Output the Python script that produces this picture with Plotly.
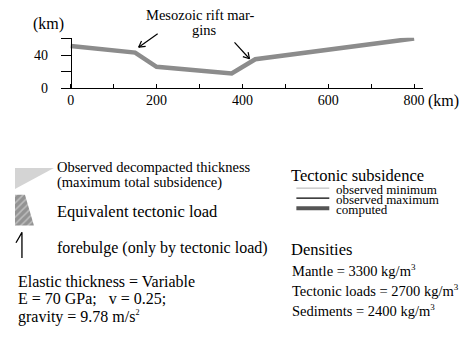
import numpy as np
import plotly.graph_objects as go

W, H = 471, 337
FONT = "Liberation Serif"

# ---- data ----
distance_km = [0, 150, 200, 375, 430, 800]
depth_km = [51, 43, 26, 18, 35, 60]
x_tickvals = [0, 100, 200, 300, 400, 500, 600, 700, 800]
x_ticktext = ["0", " ", "200", " ", "400", " ", "600", " ", "800"]
y_tickvals = [0, 20, 40, 60]
y_ticktext = ["0", " ", "40", " "]

# ---- layout geometry (pixels) ----
PX_L, PX_R, PX_T, PX_B = 61, 424, 33, 86
X_RANGE = [-23, 821]
Y_RANGE = [0, 61]

fig = go.Figure()

fig.add_trace(go.Scatter(x=distance_km, y=depth_km, mode="lines",
                         line=dict(color="#8c8c8c", width=4.5),
                         xaxis="x", yaxis="y", hoverinfo="skip", showlegend=False))

# legend symbols on a hidden pixel-coordinate overlay axis
fig.add_trace(go.Scatter(x=[15, 54, 15, 15], y=[169, 169, 191, 169], mode="lines",
                         fill="toself", fillcolor="#d4d4d4", line=dict(width=0),
                         xaxis="x2", yaxis="y2", hoverinfo="skip", showlegend=False))
fig.add_trace(go.Scatter(x=[15, 25, 34, 15, 15], y=[197, 197, 229, 229, 197], mode="lines",
                         fill="toself", fillcolor="#939393",
                         fillpattern=dict(shape="/", bgcolor="#939393", fgcolor="#e8e8e8",
                                          size=5, solidity=0.3),
                         line=dict(width=0),
                         xaxis="x2", yaxis="y2", hoverinfo="skip", showlegend=False))

shapes = []
def seg(x0, y0, x1, y1, color="black", width=1.2):
    shapes.append(dict(type="line", xref="x2", yref="y2", x0=x0, y0=y0, x1=x1, y1=y1,
                       line=dict(color=color, width=width)))

def arrow(x0, y0, x1, y1, head=7, ang=30):
    seg(x0, y0, x1, y1)
    d = np.array([x0 - x1, y0 - y1], float)
    d /= np.linalg.norm(d)
    for s in (-1, 1):
        a = np.radians(s * ang)
        r = np.array([d[0] * np.cos(a) - d[1] * np.sin(a), d[0] * np.sin(a) + d[1] * np.cos(a)])
        seg(x1, y1, x1 + head * r[0], y1 + head * r[1])

arrow(158, 29, 139, 43)
arrow(235, 38, 250, 55)

# forebulge symbol
shapes.append(dict(type="path", xref="x2", yref="y2", path="M 22,263 L 22,236 Q 20,240 16,247",
                   line=dict(color="black", width=1.3)))

# tectonic subsidence legend lines
seg(297, 190, 330, 190, "#b0b0b0", 1)
seg(297, 200.5, 330, 200.5, "black", 1.3)
seg(297, 211, 330, 211, "#555555", 4)

annotations = []
def txt(s, x, y, size=13, anchor="left"):
    annotations.append(dict(text=s, x=x, y=y, xref="x2", yref="y2", xanchor=anchor,
                            yanchor="middle", showarrow=False,
                            font=dict(family=FONT, size=size, color="black")))

def sup(s, px):
    return "<sup><span style='font-size:%dpx'>%s</span></sup>" % (px, s)

txt("(km)", 49, 19, 16, "center")
txt("(km)", 427, 99, 16)
txt("Mesozoic rift mar-", 201, 9, 14.5, "center")
txt("gins", 205, 25, 14.5, "center")

txt("Observed decompacted thickness", 55, 168, 14.5)
txt("(maximum total subsidence)", 55, 184, 14.5)
txt("Equivalent tectonic load", 55, 214, 16.5)
txt("forebulge (only by tectonic load)", 55, 253, 16)
txt("Elastic thickness = Variable", 16, 287, 16)
txt("E = 70 GPa;\u00a0\u00a0 v = 0.25;", 16, 305, 16)
txt("gravity = 9.78 m/s" + sup("2", 8), 16, 324, 16)

txt("Tectonic subsidence", 290, 177, 16.5)
txt("observed minimum", 335, 191, 13)
txt("observed maximum", 335, 201.5, 13)
txt("computed", 335, 212, 13)
txt("Densities", 290, 254, 16.5)
txt("Mantle = 3300 kg/m" + sup("3", 9), 291, 276, 14.5)
txt("Tectonic loads = 2700 kg/m" + sup("3", 9), 291, 297, 14.5)
txt("Sediments = 2400 kg/m" + sup("3", 9), 291, 318, 14.5)

tickfont = dict(family=FONT, size=14, color="black")
fig.update_layout(
    width=W, height=H,
    margin=dict(l=0, r=0, t=0, b=0),
    paper_bgcolor="white", plot_bgcolor="rgba(0,0,0,0)",
    showlegend=False,
    xaxis=dict(domain=[PX_L / W, PX_R / W], range=X_RANGE, anchor="y",
               showline=True, linecolor="black", linewidth=1, showgrid=False, zeroline=False,
               ticks="inside", ticklen=4, tickcolor="black", tickwidth=1,
               ticklabelstandoff=-1,
               tickvals=x_tickvals, ticktext=x_ticktext, tickfont=tickfont),
    yaxis=dict(domain=[1 - PX_B / H, 1 - PX_T / H], range=Y_RANGE, anchor="free",
               position=(PX_L + (0 - X_RANGE[0]) / (X_RANGE[1] - X_RANGE[0]) * (PX_R - PX_L)) / W,
               showline=True, linecolor="black", linewidth=1, showgrid=False, zeroline=False,
               ticks="outside", ticklen=10, tickcolor="black", tickwidth=1,
               ticklabelstandoff=10,
               tickvals=y_tickvals, ticktext=y_ticktext, tickfont=tickfont),
    xaxis2=dict(domain=[0, 1], range=[0, W], anchor="y2", visible=False, fixedrange=True),
    yaxis2=dict(domain=[0, 1], range=[H, 0], anchor="x2", visible=False, fixedrange=True),
    shapes=shapes, annotations=annotations,
)

fig.write_html("out.html")
